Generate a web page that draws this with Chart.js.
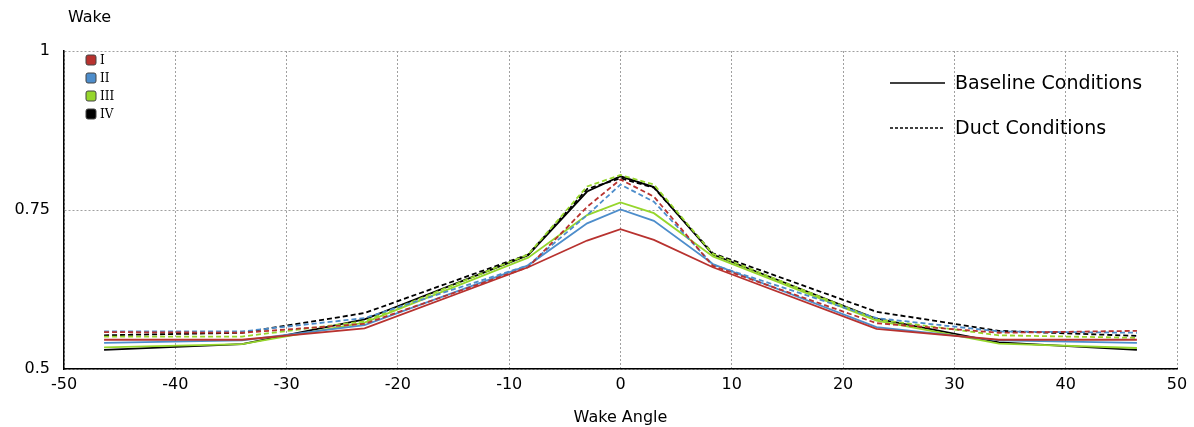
<!DOCTYPE html>
<html>
<head>
<meta charset="utf-8">
<script src="https://cdn.jsdelivr.net/npm/chart.js@4/dist/chart.umd.min.js"></script>
<style>
  html, body { margin: 0; padding: 0; background: #fff; }
  #wrap { width: 1194px; height: 427px; }
</style>
</head>
<body>
<div id="wrap"><canvas id="wakeChart" width="1194" height="427"></canvas></div>
<script>
// Wake vs wake angle, baseline (solid) and duct (dashed) for radii I-IV
const angles = [-46.4, -34, -23, -8.3, -3, 0, 3, 8.3, 23, 34, 46.4];

const baseI   = [0.546, 0.546, 0.564, 0.660, 0.702, 0.720, 0.703, 0.660, 0.563, 0.546, 0.546];
const baseII  = [0.541, 0.545, 0.569, 0.663, 0.729, 0.751, 0.733, 0.665, 0.566, 0.545, 0.541];
const baseIII = [0.534, 0.539, 0.573, 0.675, 0.742, 0.762, 0.745, 0.677, 0.576, 0.540, 0.533];
const baseIV  = [0.530, 0.539, 0.578, 0.679, 0.779, 0.803, 0.786, 0.680, 0.579, 0.542, 0.530];

const ductI   = [0.558, 0.557, 0.571, 0.660, 0.755, 0.798, 0.771, 0.662, 0.572, 0.557, 0.560];
const ductII  = [0.559, 0.559, 0.580, 0.663, 0.742, 0.790, 0.763, 0.664, 0.580, 0.559, 0.557];
const ductIII = [0.551, 0.551, 0.575, 0.680, 0.787, 0.805, 0.790, 0.681, 0.578, 0.553, 0.549];
const ductIV  = [0.553, 0.557, 0.588, 0.680, 0.783, 0.800, 0.785, 0.682, 0.590, 0.560, 0.552];

const radiusNames = ['I', 'II', 'III', 'IV'];
const radiusColors = ['#b8322f', '#4d8dcb', '#96d62c', '#000000'];
const styleNames = ['Baseline Conditions', 'Duct Conditions'];
const yTicks = [0.5, 0.75, 1];

const FONT = '"DejaVu Sans", Verdana, sans-serif';

const toPoints = vals => vals.map((v, i) => ({ x: angles[i], y: v }));

const makeSet = (vals, idx, dashed) => ({
    label: radiusNames[idx] + (dashed ? ' duct' : ' base'),
    data: toPoints(vals),
    borderColor: radiusColors[idx],
    borderWidth: 1.8,
    borderDash: dashed ? [5, 3] : [],
    pointRadius: 0,
    tension: 0,
    fill: false
});

const datasets = [
    makeSet(ductI, 0, true),
    makeSet(ductII, 1, true),
    makeSet(baseI, 0, false),
    makeSet(baseII, 1, false),
    makeSet(baseIII, 2, false),
    makeSet(ductIII, 2, true),
    makeSet(ductIV, 3, true),
    makeSet(baseIV, 3, false)
];

// Legends and y-axis caption drawn by hand
const decorPlugin = {
    id: 'decor',
    afterDraw(chart) {
        const { ctx, chartArea } = chart;
        ctx.save();

        // y-axis caption
        ctx.fillStyle = '#000';
        ctx.font = '16px ' + FONT;
        ctx.textBaseline = 'middle';
        ctx.textAlign = 'left';
        ctx.fillText('Wake', chartArea.left + 4, 18);

        // radius legend (top-left)
        ctx.font = '12px "DejaVu Serif", "Liberation Serif", serif';
        radiusNames.forEach((name, i) => {
            const y = chartArea.top + 9 + i * 18;
            const x = chartArea.left + 22;
            ctx.beginPath();
            ctx.roundRect(x, y - 5, 10, 10, 2);
            ctx.fillStyle = radiusColors[i];
            ctx.fill();
            ctx.lineWidth = 1;
            ctx.strokeStyle = '#444';
            ctx.stroke();
            ctx.fillStyle = '#000';
            ctx.fillText(name, x + 14, y + 1);
        });

        // line style legend (top-right)
        ctx.font = '19px ' + FONT;
        styleNames.forEach((name, i) => {
            const y = chartArea.top + 32 + i * 45;
            ctx.beginPath();
            ctx.setLineDash(i === 0 ? [] : [3, 2]);
            ctx.strokeStyle = '#000';
            ctx.lineWidth = 1.5;
            ctx.moveTo(890, y);
            ctx.lineTo(945, y);
            ctx.stroke();
            ctx.setLineDash([]);
            ctx.fillStyle = '#000';
            ctx.fillText(name, 955, y + 1);
        });

        ctx.restore();
    }
};

new Chart(document.getElementById('wakeChart'), {
    type: 'line',
    data: { datasets },
    options: {
        responsive: false,
        animation: false,
        layout: { padding: { top: 51, right: 17, left: 0, bottom: 0 } },
        plugins: {
            legend: { display: false },
            tooltip: { enabled: false }
        },
        scales: {
            x: {
                type: 'linear',
                min: -50,
                max: 50,
                afterFit: scale => { scale.height = 58; },
                ticks: {
                    stepSize: 10,
                    color: '#000',
                    padding: 6,
                    maxRotation: 0,
                    font: { family: FONT, size: 16 }
                },
                grid: {
                    color: '#a0a0a0',
                    lineWidth: 1,
                    drawTicks: false
                },
                border: { display: true, color: '#000', width: 1.5, dash: [2, 2] },
                title: {
                    display: true,
                    text: 'Wake Angle',
                    color: '#000',
                    padding: { top: 2, bottom: 0 },
                    font: { family: FONT, size: 16 }
                }
            },
            y: {
                type: 'linear',
                min: 0.5,
                max: 1,
                afterFit: scale => { scale.width = 64; },
                afterBuildTicks: scale => {
                    scale.ticks = yTicks.map(v => ({ value: v }));
                },
                ticks: {
                    color: '#000',
                    padding: 14,
                    font: { family: FONT, size: 16 },
                    callback: v => String(v)
                },
                grid: {
                    color: '#a0a0a0',
                    lineWidth: 1,
                    drawTicks: false
                },
                border: { display: true, color: '#000', width: 1.5, dash: [2, 2] }
            }
        }
    },
    plugins: [decorPlugin]
});
</script>
</body>
</html>
